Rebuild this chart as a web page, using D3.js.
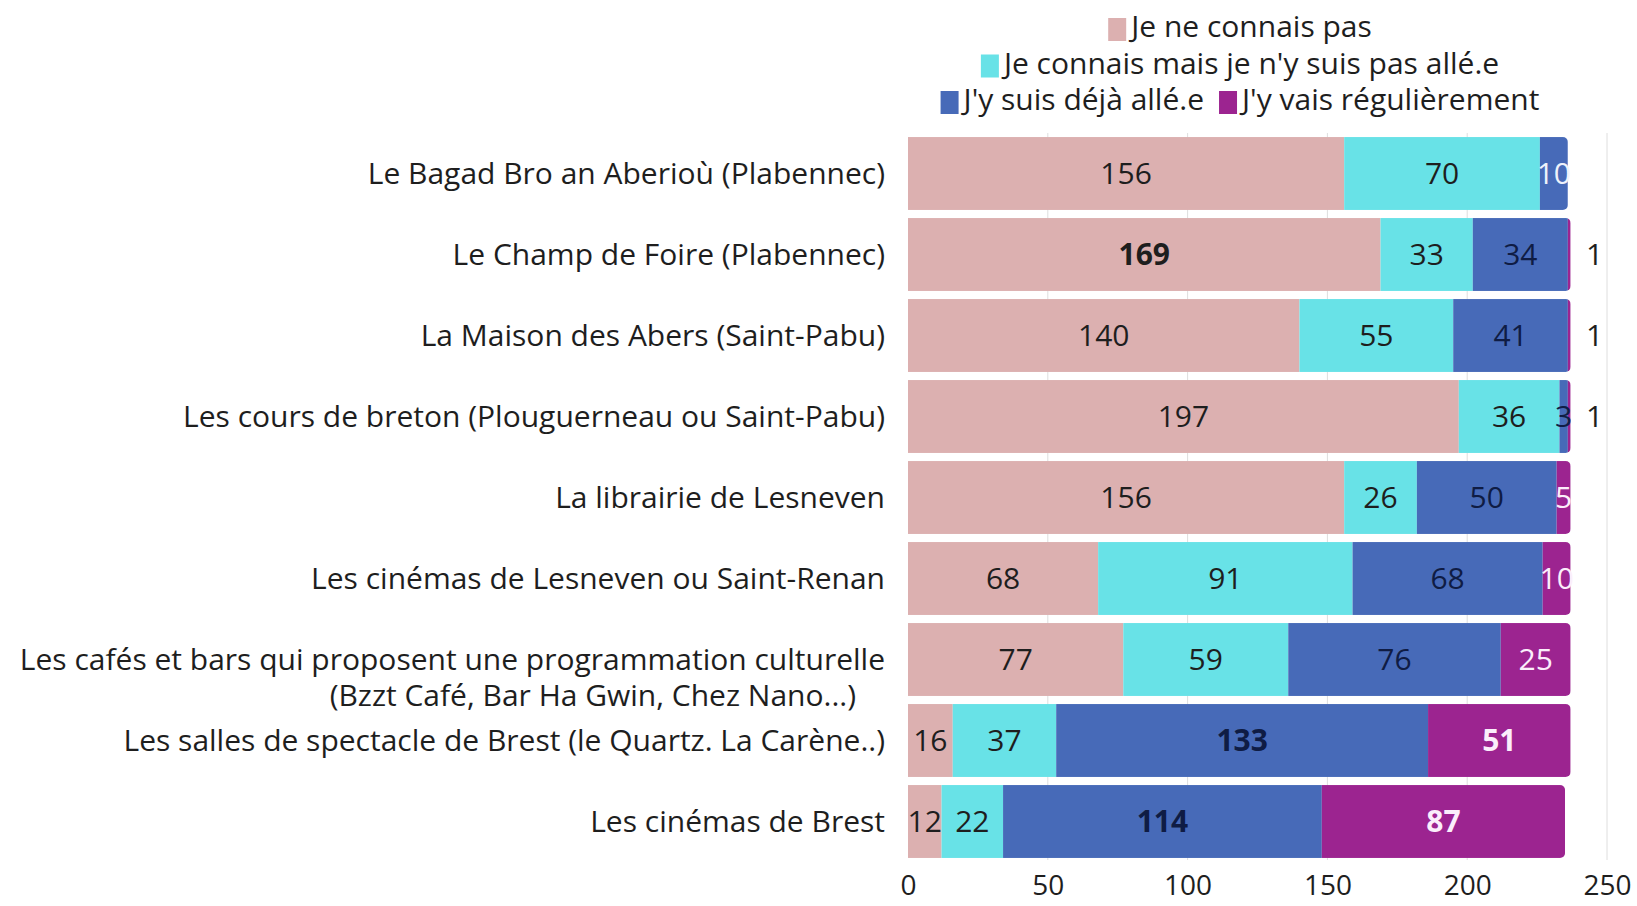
<!DOCTYPE html>
<html lang="fr">
<head>
<meta charset="UTF-8">
<script src="https://cdnjs.cloudflare.com/ajax/libs/d3/7.9.0/d3.min.js"></script>
<title>Lieux culturels</title>
<style>
    body { margin: 0; background: #fff; }
    svg { display: block; font-family: "Open Sans", sans-serif; }
</style>
</head>
<body>
<svg id="chart" width="1637" height="906"></svg>
<script>
    // categories (top to bottom), label lines
    const places = [
        ["Le Bagad Bro an Aberioù (Plabennec)"],
        ["Le Champ de Foire (Plabennec)"],
        ["La Maison des Abers (Saint-Pabu)"],
        ["Les cours de breton (Plouguerneau ou Saint-Pabu)"],
        ["La librairie de Lesneven"],
        ["Les cinémas de Lesneven ou Saint-Renan"],
        ["Les cafés et bars qui proposent une programmation culturelle", "(Bzzt Café, Bar Ha Gwin, Chez Nano...)"],
        ["Les salles de spectacle de Brest (le Quartz. La Carène..)"],
        ["Les cinémas de Brest"]
    ];
    const seriesNames = [
        "Je ne connais pas",
        "Je connais mais je n'y suis pas allé.e",
        "J'y suis déjà allé.e",
        "J'y vais régulièrement"
    ];
    const neConnaisPas = [156, 169, 140, 197, 156, 68, 77, 16, 12];
    const connaisPasAlle = [70, 33, 55, 36, 26, 91, 59, 37, 22];
    const dejaAlle = [10, 34, 41, 3, 50, 68, 76, 133, 114];
    const regulierement = [0, 1, 1, 1, 5, 10, 25, 51, 87];
    const xTicks = [0, 50, 100, 150, 200, 250];

    const colors = ["#dcb0b0", "#68e2e7", "#476ab8", "#9c2490"];
    const boldCells = ["1-0", "7-2", "7-3", "8-2", "8-3"]; // row-series
    const whiteCells = ["0-2"];

    const svg = d3.select("#chart");
    const ink = "#1e1e1e";

    const x = d3.scaleLinear().domain([0, 250]).range([908, 1607]);
    const y = d3.scaleBand()
        .domain(d3.range(places.length))
        .range([133, 862])
        .paddingInner(0.1)
        .paddingOuter(0.05);

    // gridlines
    svg.append("g")
        .selectAll("line")
        .data(xTicks.slice(1))
        .join("line")
        .attr("x1", d => x(d)).attr("x2", d => x(d))
        .attr("y1", 133).attr("y2", 860)
        .attr("stroke", "#dedede")
        .attr("stroke-width", 1);

    // x axis labels
    const xAxis = d3.axisBottom(x).tickValues(xTicks).tickSize(0).tickPadding(0);
    const gx = svg.append("g")
        .attr("transform", "translate(0,880)")
        .call(xAxis);
    gx.select(".domain").remove();
    gx.selectAll("text")
        .attr("dy", null)
        .attr("y", 15)
        .attr("font-family", "Open Sans")
        .attr("font-size", 28)
        .attr("fill", ink);

    // stacked data
    const rows = places.map((p, i) => [neConnaisPas[i], connaisPasAlle[i], dejaAlle[i], regulierement[i]]);
    const stacked = d3.stack().keys([0, 1, 2, 3])(rows);

    const defs = svg.append("defs");
    rows.forEach((r, i) => {
        defs.append("clipPath").attr("id", "clip" + i)
            .append("rect")
            .attr("x", x(0) - 10)
            .attr("y", y(i))
            .attr("width", x(d3.sum(r)) - x(0) + 10)
            .attr("height", y.bandwidth())
            .attr("rx", 5);
    });

    const bars = svg.append("g");
    stacked.forEach((layer, s) => {
        layer.forEach((d, i) => {
            bars.append("rect")
                .attr("clip-path", `url(#clip${i})`)
                .attr("x", x(d[0]))
                .attr("y", y(i))
                .attr("width", Math.max(0, x(d[1]) - x(d[0])))
                .attr("height", y.bandwidth())
                .attr("fill", colors[s]);
        });
    });

    // value labels
    const labels = svg.append("g")
        .attr("font-size", 30)
        .attr("text-anchor", "middle");
    stacked.forEach((layer, s) => {
        layer.forEach((d, i) => {
            const v = d[1] - d[0];
            if (v <= 0) return;
            const key = i + "-" + s;
            const outside = v <= 1;
            let fill = s === 3 ? "#fbeefb" : (s === 2 ? "#0f1c44" : ink);
            if (whiteCells.includes(key)) fill = "#eef2fb";
            if (outside) fill = ink;
            labels.append("text")
                .attr("x", outside ? x(d[1]) + 24 : (x(d[0]) + x(d[1])) / 2)
                .attr("y", y(i) + y.bandwidth() / 2)
                .attr("dy", "0.36em")
                .attr("font-weight", boldCells.includes(key) ? "bold" : null)
                .attr("fill", fill)
                .text(v);
        });
    });

    // category labels
    const cat = svg.append("g")
        .attr("font-size", 30)
        .attr("text-anchor", "end")
        .attr("fill", ink);
    places.forEach((lines, i) => {
        lines.forEach((t, k) => {
            cat.append("text")
                .attr("x", k === 0 ? 885 : 856)
                .attr("y", y(i) + y.bandwidth() / 2 + k * 36)
                .attr("dy", "0.36em")
                .text(t);
        });
    });

    // legend
    const legendRows = [[0], [1], [2, 3]];
    const legend = svg.append("g").attr("font-size", 30).attr("fill", ink);
    legendRows.forEach((row, r) => {
        const base = 37 + r * 36.5;
        const g = legend.append("g");
        let cx = 0;
        row.forEach((s, k) => {
            if (k > 0) cx += 15;
            g.append("rect")
                .attr("x", cx).attr("y", base - 19)
                .attr("width", 18).attr("height", 23)
                .attr("fill", colors[s]);
            cx += 23;
            const t = g.append("text").attr("x", cx).attr("y", base).text(seriesNames[s]);
            cx += t.node().getComputedTextLength();
        });
        g.attr("transform", `translate(${1240 - cx / 2},0)`);
    });
</script>
</body>
</html>
